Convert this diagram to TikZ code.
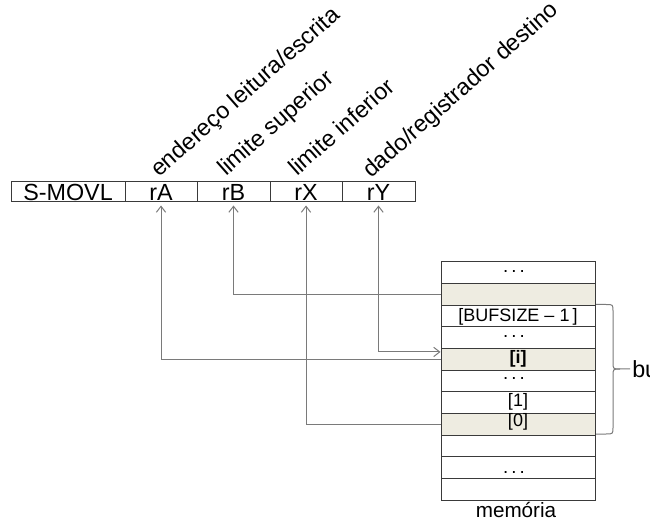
\documentclass[tikz,border=0pt]{standalone}
\usepackage{fontspec}
\setmainfont{Liberation Sans}
\usetikzlibrary{arrows.meta}
\definecolor{shade}{HTML}{EEECE1}
\definecolor{conncol}{HTML}{7A7A7A}
\definecolor{boxcol}{HTML}{3A3A3A}
\begin{document}
\begin{tikzpicture}[x=0.75pt,y=-0.75pt,
  field/.style={draw=boxcol,line width=0.75pt,minimum height=15pt,inner sep=0pt,
    font=\fontsize{17.5}{19}\selectfont},
  cell/.style={draw=boxcol,line width=0.75pt,minimum width=115.5pt,minimum height=16.23pt,
    inner sep=0pt,font=\fontsize{13.5}{15}\selectfont},
  shaded/.style={fill=shade},
  celltext/.style={inner sep=0pt,font=\fontsize{13.5}{15}\selectfont},
  lbl/.style={anchor=base west,rotate=41.5,inner sep=0pt,font=\fontsize{17.5}{19}\selectfont},
  conn/.style={draw=conncol,line width=0.75pt},
  tip/.style={-{Straight Barb[length=4.5pt,width=7pt]}},
  dotsx/.style={inner sep=0pt,font=\fontsize{14}{15}\selectfont}
]
\useasboundingbox (0,0) rectangle (650,520);
\clip (0,0) rectangle (650,520);

% instruction fields
\node[field,minimum width=85.5pt] (op) at (68,192) {S-MOVL};
\node[field,minimum width=54pt] (rA) at (161,192) {rA};
\node[field,minimum width=54.75pt] (rB) at (233.5,192) {rB};
\node[field,minimum width=54pt] (rX) at (306,192) {rX};
\node[field,minimum width=54.75pt] (rY) at (378.5,192) {rY};

% rotated labels
\node[lbl] (l1) at (159,178) {endereço leitura/escrita};
\node[lbl] (l2) at (226,177) {limite superior};
\node[lbl] (l3) at (297,177) {limite inferior};
\node[lbl] (l4) at (371,179) {dado/registrador destino};

% memory cells
\node[cell] (m1) at (518,272.8) {};
\node[cell,shaded] (m2) at (518,294.5) {};
\node[cell] (m3) at (518,316.1) {};
\node[cell] (m4) at (518,337.7) {};
\node[cell,shaded] (m5) at (518,359.4) {};
\node[cell] (m6) at (518,381.0) {};
\node[cell] (m7) at (518,402.7) {};
\node[cell,shaded] (m8) at (518,424.3) {};
\node[cell] (m9) at (518,446.0) {};
\node[cell] (m10) at (518,467.6) {};
\node[cell] (m11) at (518,489.2) {};

% cell texts
\node[dotsx] (d1) at (514,272) {.\hspace{2.3pt}.\hspace{2.3pt}.};
\node[celltext] (t3) at (518,316.6) {[BUFSIZE – 1\,]};
\node[dotsx] (d4) at (514,337) {.\hspace{2.3pt}.\hspace{2.3pt}.};
\node[celltext] (t5) at (518,358.5) {\bfseries [i]};
\node[dotsx] (d6) at (514,378.5) {.\hspace{2.3pt}.\hspace{2.3pt}.};
\node[celltext] (t7) at (518,401.5) {[1]};
\node[celltext] (t8) at (518,421.8) {[0]};
\node[dotsx] (d10) at (514,472.5) {.\hspace{2.3pt}.\hspace{2.3pt}.};

\node[anchor=base,inner sep=0pt,font=\fontsize{15.5}{17}\selectfont] (mem) at (516,517) {memória};

% connectors
\draw[conn,tip,shorten >=2.25pt] (m5.west) -| (rA.south);
\draw[conn,tip,shorten >=2.25pt] (m2.west) -| (rB.south);
\draw[conn,tip,shorten >=2.25pt] (m8.west) -| (rX.south);
\draw[conn,{Straight Barb[length=4.5pt,width=7pt]}-{Straight Barb[length=4.5pt,width=7pt]},shorten >=2.25pt]
  ([yshift=5.6pt]m5.west) -| (rY.south);

% brace
\draw[conn] (596,304.5) -- (606,304.5) .. controls (613,304.5) .. (613,311.5) -- (613,362)
  .. controls (613,369) .. (620,369) -- (630,369);
\draw[conn] (620,369) .. controls (613,369) .. (613,376) -- (613,427)
  .. controls (613,434) .. (606,434) -- (596,434);
\node[anchor=west,inner sep=0pt,font=\fontsize{17.5}{19}\selectfont] (buf) at (632,369.5) {buffer};
\end{tikzpicture}
\end{document}
